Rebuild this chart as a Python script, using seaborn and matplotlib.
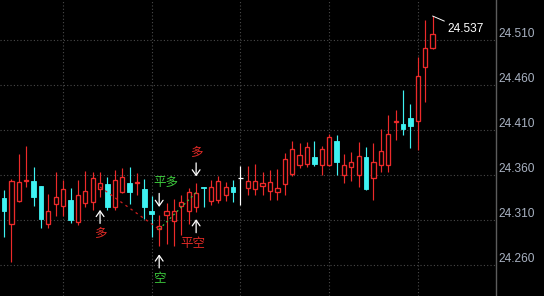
import matplotlib
matplotlib.use("Agg")
import matplotlib.pyplot as plt
import seaborn as sns
import pandas as pd
from matplotlib.transforms import offset_copy

# ---------------- data ----------------
opens = [24.335, 24.306, 24.331, 24.354, 24.354, 24.348, 24.306, 24.328, 24.326, 24.333,
         24.308, 24.329, 24.330, 24.345, 24.350, 24.325, 24.341, 24.351, 24.352, 24.345,
         24.320, 24.300, 24.316, 24.309, 24.326, 24.320, 24.325, 24.347, 24.331, 24.333,
         24.338, 24.347, 24.357, 24.346, 24.345, 24.348, 24.343, 24.341, 24.350, 24.362,
         24.372, 24.373, 24.380, 24.371, 24.371, 24.398, 24.360, 24.369, 24.360, 24.380,
         24.357, 24.372, 24.372, 24.419, 24.417, 24.424, 24.420, 24.480, 24.502]
highs = [24.344, 24.356, 24.384, 24.393, 24.369, 24.348, 24.339, 24.364, 24.355, 24.346,
         24.355, 24.365, 24.364, 24.364, 24.358, 24.366, 24.368, 24.369, 24.363, 24.356,
         24.337, 24.316, 24.329, 24.334, 24.338, 24.346, 24.351, 24.347, 24.355, 24.359,
         24.353, 24.355, 24.370, 24.370, 24.373, 24.364, 24.366, 24.367, 24.385, 24.398,
         24.396, 24.397, 24.398, 24.393, 24.406, 24.405, 24.384, 24.386, 24.397, 24.392,
         24.396, 24.412, 24.427, 24.433, 24.455, 24.439, 24.491, 24.533, 24.537]
lows = [24.291, 24.264, 24.330, 24.347, 24.326, 24.301, 24.301, 24.315, 24.315, 24.307,
        24.305, 24.325, 24.321, 24.336, 24.321, 24.321, 24.340, 24.328, 24.338, 24.311,
        24.292, 24.281, 24.284, 24.281, 24.294, 24.306, 24.319, 24.325, 24.327, 24.329,
        24.331, 24.330, 24.327, 24.338, 24.338, 24.338, 24.333, 24.333, 24.338, 24.359,
        24.368, 24.369, 24.370, 24.360, 24.370, 24.360, 24.351, 24.354, 24.347, 24.344,
        24.333, 24.364, 24.364, 24.399, 24.405, 24.390, 24.388, 24.441, 24.500]
closes = [24.320, 24.354, 24.353, 24.355, 24.336, 24.311, 24.320, 24.336, 24.345, 24.310,
          24.338, 24.343, 24.357, 24.352, 24.325, 24.355, 24.358, 24.341, 24.353, 24.325,
          24.317, 24.304, 24.320, 24.320, 24.330, 24.341, 24.340, 24.346, 24.347, 24.354,
          24.347, 24.341, 24.357, 24.354, 24.354, 24.352, 24.353, 24.346, 24.378, 24.389,
          24.383, 24.392, 24.373, 24.389, 24.403, 24.375, 24.372, 24.375, 24.382, 24.345,
          24.375, 24.387, 24.406, 24.420, 24.411, 24.415, 24.470, 24.501, 24.517]

price_ticks = [24.260, 24.310, 24.360, 24.410, 24.460, 24.510]
price_tick_labels = ["24.260", "24.310", "24.360", "24.410", "24.460", "24.510"]
time_grid = [8, 20, 32, 44, 56]

# trading signals
sig_idx = [13, 21, 21, 26, 26]
sig_text = ["多", "平多", "空", "多", "平空"]
sig_side = ["below", "above", "below", "above", "below"]

# trade paths (entry -> exit)
long_idx = [13, 21]
long_price = [24.347, 24.300]
short_idx = [21, 26]
short_price = [24.300, 24.341]

# ---------------- style ----------------
RED = "#ec2a2a"
CYAN = "#3ef2f2"
TXT_RED = "#e02a26"
TXT_GREEN = "#3cc83c"
GRID = "#4a4a4a"
LABEL = "#a9b2c2"

sns.set_theme(style="dark", rc={"axes.facecolor": "black", "figure.facecolor": "black"})
plt.rcParams["font.family"] = ["Liberation Sans", "DejaVu Sans"]

df = pd.DataFrame({"open": opens, "high": highs, "low": lows, "close": closes})
df["idx"] = range(len(df))
df["dir"] = ["up" if c > o else ("down" if c < o else "flat") for o, c in zip(df.open, df.close)]
color_map = {"up": RED, "down": CYAN, "flat": "white"}
df["color"] = df["dir"].map(color_map)

fig = plt.figure(figsize=(5.44, 2.96), dpi=100)
ax = fig.add_axes([0, 0, 496 / 544, 1])
ax.set_facecolor("black")

# wicks
ax.vlines(df.idx, df.low, df.high, colors=df.color, lw=0.85, zorder=2)

# bodies
up = df[df.dir == "up"]
ax.bar(up.idx, (up.close - up.open).clip(lower=0.0004), bottom=up.open, width=0.58,
       facecolor="black", edgecolor=RED, lw=0.95, zorder=3)
dn = df[df.dir == "down"]
ax.bar(dn.idx, (dn.open - dn.close).clip(lower=0.0004), bottom=dn.close, width=0.62,
       facecolor=CYAN, edgecolor=CYAN, lw=0.6, zorder=3)
fl = df[df.dir == "flat"]
ax.hlines(fl.close, fl.idx - 0.33, fl.idx + 0.33, colors="white", lw=0.9, zorder=3)

# trade path lines
sns.lineplot(x=long_idx, y=long_price, ax=ax, color="#d02020", lw=0.9,
             linestyle=(0, (2, 3)), zorder=4)
sns.lineplot(x=short_idx, y=short_price, ax=ax, color="#40c040", lw=0.9,
             linestyle=(0, (1.5, 2.5)), zorder=4)

# signal arrows + texts
tip_gap = [13, 8, 8, 7, 7]
txt_dx = [0, 7, 0, 0, -3]
sig_color = {"多": TXT_RED, "平空": TXT_RED, "平多": TXT_GREEN, "空": TXT_GREEN}
for i, t, side, gap, dx in zip(sig_idx, sig_text, sig_side, tip_gap, txt_dx):
    if side == "below":
        base = df.low[i]
        s = -1
    else:
        base = df.high[i]
        s = 1
    tip_tr = offset_copy(ax.transData, fig=fig, x=0, y=s * gap, units="dots")
    ax.annotate("", xy=(i, base), xycoords=tip_tr, xytext=(0, s * 13.5),
                textcoords="offset pixels",
                arrowprops=dict(arrowstyle="->,head_length=0.5,head_width=0.35",
                                color="white", lw=0.9, shrinkA=0, shrinkB=0,
                                mutation_scale=8), zorder=5)
    ax.annotate(t, xy=(i, base), xycoords=tip_tr, xytext=(dx, s * 24),
                textcoords="offset pixels", ha="center", va="center",
                color=sig_color[t], fontsize=9,
                family=["Noto Sans CJK SC", "DejaVu Sans"], zorder=5)

# highest price label
hi_i = int(df.high.idxmax())
ax.annotate(f"{df.high.max():.3f}", xy=(hi_i, df.high.max()), xytext=(15, -6.5),
            textcoords="offset pixels", ha="left", va="top", color="white",
            fontsize=8.6,
            arrowprops=dict(arrowstyle="-", color="white", lw=0.7, shrinkA=0,
                            shrinkB=0, relpos=(0, 1)), zorder=5)

# axes, grid
ax.set_xlim(-0.541, 66.58)
ax.set_ylim(24.2259, 24.5548)
ax.set_xticks(time_grid)
ax.set_xticklabels([])
ax.set_yticks(price_ticks)
ax.set_yticklabels(price_tick_labels)
ax.yaxis.tick_right()
ax.tick_params(axis="y", length=0, pad=2.0, labelcolor=LABEL, labelsize=8.6)
ax.tick_params(axis="x", length=0)
for tk in ax.yaxis.get_major_ticks():
    tk.label1.set_va("bottom")
    tk.label2.set_va("bottom")
ax.grid(True, color=GRID, linestyle=(0, (1, 2)), lw=0.8)
for name, sp in ax.spines.items():
    sp.set_visible(name == "right")
ax.spines["right"].set_color("#5c5c5c")
ax.spines["right"].set_linewidth(1.0)
ax.set_xlabel("")
ax.set_ylabel("")

fig.savefig("out.png", dpi=100, facecolor="black")
